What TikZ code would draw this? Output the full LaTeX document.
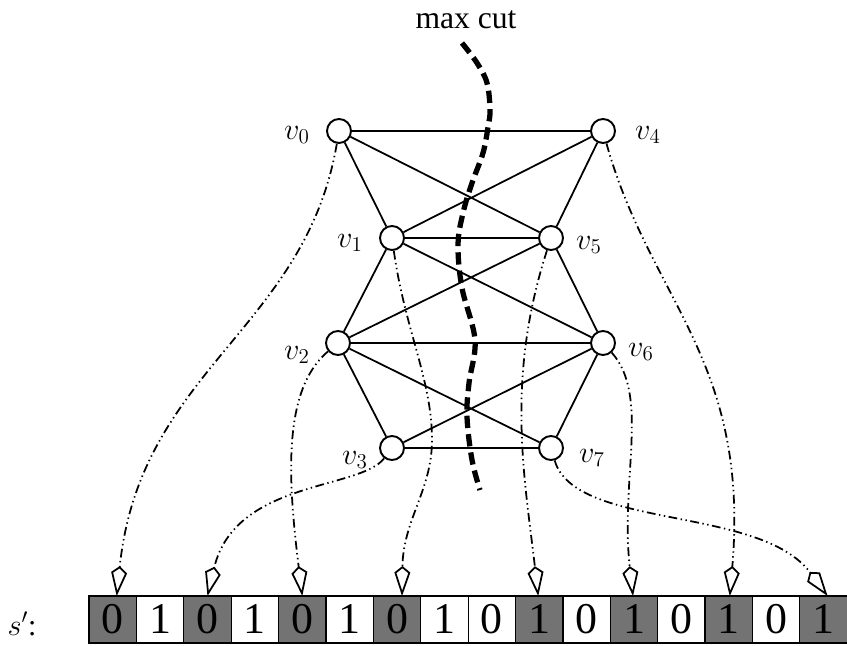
\documentclass[tikz,border=0pt]{standalone}
\usepackage[no-math]{fontspec}
\setmainfont{Liberation Serif}
\usepackage{tikz}
\usetikzlibrary{arrows.meta, positioning}
\definecolor{cellgray}{RGB}{115,115,115}
\tikzset{
  vertex/.style={circle, draw, fill=white, minimum size=0.48cm, inner sep=0pt,
    line width=1.1pt},
  edge/.style={line width=1pt},
  lbl/.style={font=\fontsize{17}{19}\selectfont, inner sep=0pt},
  bitbox/.style={rectangle, draw, minimum width=0.948cm, minimum height=0.94cm,
    inner sep=0pt, outer sep=0pt, line width=0.7pt, font=\fontsize{25}{28}\selectfont},
  bitdark/.style={bitbox, fill=cellgray},
  map/.style={line width=1pt,
    dash pattern=on 5pt off 2pt on 0.8pt off 2pt on 0.8pt off 2pt,
    -{Kite[length=0.6cm, width=0.32cm, inset=0.13cm, fill=white]}},
  cut/.style={line width=3pt, dash pattern=on 7pt off 3.5pt},
}
\begin{document}
\begin{tikzpicture}[x=0.02cm, y=0.02cm]
\useasboundingbox (0,0) rectangle (847,645);

% max cut
\node[font=\fontsize{18}{20}\selectfont] (maxcut) at (466,625) {max cut};
\draw[cut] plot[smooth, tension=0.6] coordinates {(462,602) (477,582) (487,562)
  (490,535) (488,518) (483,492) (472,462) (463,432) (458,400) (462,357)
  (475,305) (469,262) (467,228) (472,185) (480,155)};

% graph
\node[vertex] (v0) at (339,514) {};
\node[vertex] (v4) at (603,514) {};
\node[vertex] (v1) at (392,407) {};
\node[vertex] (v5) at (551,407) {};
\node[vertex] (v2) at (338,302) {};
\node[vertex] (v6) at (603,302) {};
\node[vertex] (v3) at (392,197) {};
\node[vertex] (v7) at (551,197) {};

\node[lbl] (l0) at ([shift={(-42,-4)}]v0) {$v_0$};
\node[lbl] (l4) at ([shift={(45,-4)}]v4) {$v_4$};
\node[lbl] (l1) at ([shift={(-42,-5)}]v1) {$v_1$};
\node[lbl] (l5) at ([shift={(38,-7)}]v5) {$v_5$};
\node[lbl] (l2) at ([shift={(-41,-12)}]v2) {$v_2$};
\node[lbl] (l6) at ([shift={(38,-9)}]v6) {$v_6$};
\node[lbl] (l3) at ([shift={(-37,-12)}]v3) {$v_3$};
\node[lbl] (l7) at ([shift={(41,-10)}]v7) {$v_7$};

\draw[edge] (v0) -- (v4) (v0) -- (v1) (v0) -- (v5) (v4) -- (v1) (v4) -- (v5)
  (v1) -- (v5) (v1) -- (v2) (v1) -- (v6) (v5) -- (v2) (v5) -- (v6)
  (v2) -- (v6) (v2) -- (v3) (v2) -- (v7) (v6) -- (v3) (v6) -- (v7) (v3) -- (v7);

% string s'
\node[font=\fontsize{17}{20}\selectfont, anchor=base] (sname) at (22,10) {$s'$:};
\node[bitdark] (c0) at (112.7,25.5) {0};
\node[bitbox, right=0pt of c0] (c1) {1};
\node[bitdark, right=0pt of c1] (c2) {0};
\node[bitbox, right=0pt of c2] (c3) {1};
\node[bitdark, right=0pt of c3] (c4) {0};
\node[bitbox, right=0pt of c4] (c5) {1};
\node[bitdark, right=0pt of c5] (c6) {0};
\node[bitbox, right=0pt of c6] (c7) {1};
\node[bitbox, right=0pt of c7] (c8) {0};
\node[bitdark, right=0pt of c8] (c9) {1};
\node[bitbox, right=0pt of c9] (c10) {0};
\node[bitdark, right=0pt of c10] (c11) {1};
\node[bitbox, right=0pt of c11] (c12) {0};
\node[bitdark, right=0pt of c12] (c13) {1};
\node[bitbox, right=0pt of c13] (c14) {0};
\node[bitdark, right=0pt of c14] (c15) {1};

% vertex to position
\draw[map] (v0) .. controls (305,315) and (140,275) .. ([shift={(4,0)}]c0.north);
\draw[map] (v3) .. controls (360,155) and (235,165) .. (c2.north);
\draw[map] (v2) .. controls (282,255) and (288,165) .. (c4.north);
\draw[map] (v1) .. controls (405,315) and (432,265) .. (432,205)
  .. controls (432,155) and (403,125) .. ([shift={(5,0)}]c6.north);
\draw[map] (v5) .. controls (505,265) and (525,165) .. ([shift={(-1,0)}]c9.north);
\draw[map] (v6) .. controls (650,250) and (620,165) .. ([shift={(-1,0)}]c11.north);
\draw[map] (v4) .. controls (650,345) and (750,285) .. ([shift={(1,0)}]c13.north);
\draw[map] (v7) .. controls (575,115) and (760,140) .. ([shift={(4,0)}]c15.north);

\end{tikzpicture}
\end{document}
